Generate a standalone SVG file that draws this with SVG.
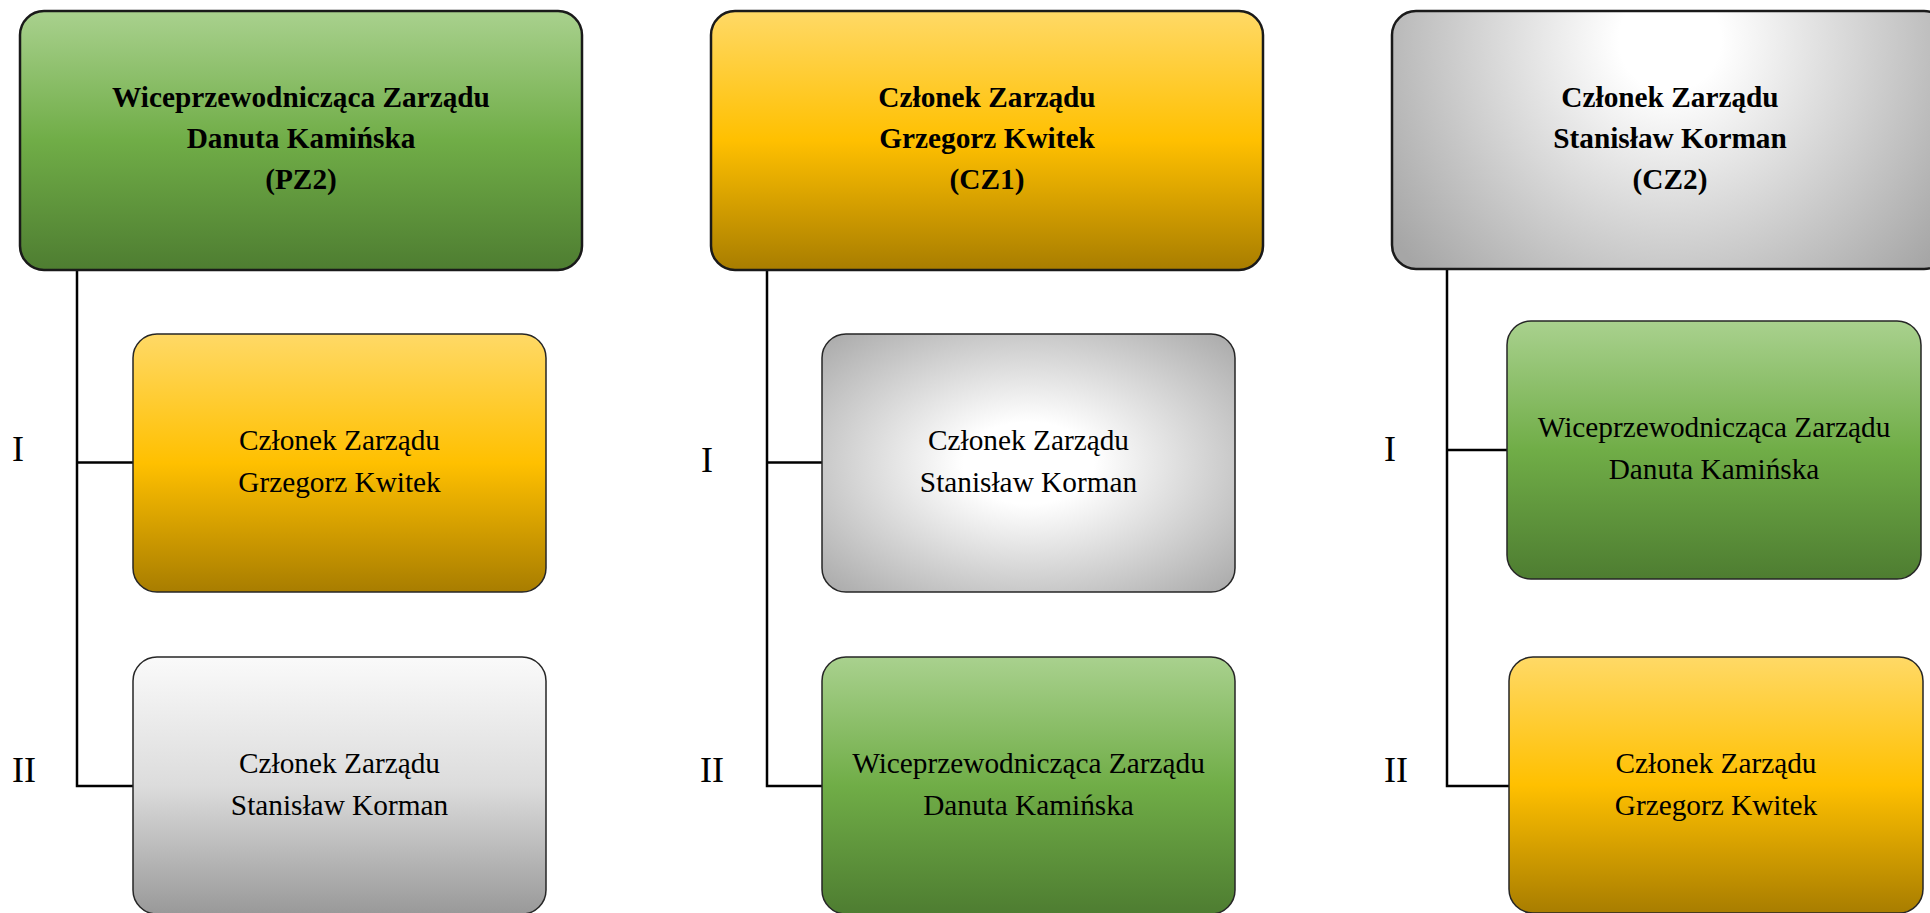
<svg xmlns="http://www.w3.org/2000/svg" width="1930" height="913" viewBox="0 0 1930 913">
<defs>
<linearGradient id="gGreen" x1="0" y1="0" x2="0" y2="1">
<stop offset="0" stop-color="#A9D18E"/><stop offset="0.5" stop-color="#70AD47"/><stop offset="1" stop-color="#4E7D31"/>
</linearGradient>
<linearGradient id="gGold" x1="0" y1="0" x2="0" y2="1">
<stop offset="0" stop-color="#FFD966"/><stop offset="0.5" stop-color="#FFC000"/><stop offset="1" stop-color="#A87D00"/>
</linearGradient>
<linearGradient id="gGrayLin" x1="0" y1="0" x2="0" y2="1">
<stop offset="0" stop-color="#FAFAFA"/><stop offset="0.5" stop-color="#DCDCDC"/><stop offset="1" stop-color="#999999"/>
</linearGradient>
<radialGradient id="gGrayRad" cx="0.5" cy="0.5" r="0.72">
<stop offset="0.22" stop-color="#FFFFFF"/><stop offset="1" stop-color="#A6A6A6"/>
</radialGradient>
<radialGradient id="gGrayTop" gradientUnits="userSpaceOnUse" cx="1670" cy="40" r="340">
<stop offset="0.15" stop-color="#FFFFFF"/><stop offset="1" stop-color="#A6A6A6"/>
</radialGradient>
</defs>
<style>
.top{stroke:#1a1a1a;stroke-width:2.5}
.child{stroke:#262626;stroke-width:1.5}
.tb{font-family:"Liberation Serif","Times New Roman",serif;font-size:29.3px;font-weight:bold;fill:#000;text-anchor:middle}
.tc{font-family:"Liberation Serif","Times New Roman",serif;font-size:29.3px;fill:#000;text-anchor:middle}
.lab{font-family:"Liberation Serif","Times New Roman",serif;font-size:36px;fill:#000}
.con{stroke:#000;stroke-width:2.5;fill:none}
</style>
<rect width="1930" height="913" fill="#fff"/>
<g id="connectors">
<path class="con" d="M77 270V786H133M77 462.5H133"/>
<path class="con" d="M767 270V786H822M767 462.5H822"/>
<path class="con" d="M1447 269V786H1509M1447 450H1507"/>
</g>
<g id="labels">
<text class="lab" x="12" y="461">I</text>
<text class="lab" x="12" y="782">II</text>
<text class="lab" x="701" y="472">I</text>
<text class="lab" x="700" y="782">II</text>
<text class="lab" x="1384" y="461">I</text>
<text class="lab" x="1384" y="782">II</text>
</g>
<g id="pz2">
<rect class="top" x="20" y="11" width="562" height="259" rx="24" fill="url(#gGreen)"/>
<text class="tb" x="301" y="107">Wiceprzewodnicząca Zarządu</text>
<text class="tb" x="301" y="148">Danuta Kamińska</text>
<text class="tb" x="301" y="189">(PZ2)</text>
</g>
<g id="cz1">
<rect class="top" x="711" y="11" width="552" height="259" rx="24" fill="url(#gGold)"/>
<text class="tb" x="987" y="107">Członek Zarządu</text>
<text class="tb" x="987" y="148">Grzegorz Kwitek</text>
<text class="tb" x="987" y="189">(CZ1)</text>
</g>
<g id="cz2">
<rect class="top" x="1392" y="11" width="556" height="258" rx="24" fill="url(#gGrayTop)"/>
<text class="tb" x="1670" y="107">Członek Zarządu</text>
<text class="tb" x="1670" y="148">Stanisław Korman</text>
<text class="tb" x="1670" y="189">(CZ2)</text>
</g>
<g id="pz2-1">
<rect class="child" x="133" y="334" width="413" height="258" rx="24" fill="url(#gGold)"/>
<text class="tc" x="339.5" y="450">Członek Zarządu</text>
<text class="tc" x="339.5" y="492">Grzegorz Kwitek</text>
</g>
<g id="pz2-2">
<rect class="child" x="133" y="657" width="413" height="257" rx="24" fill="url(#gGrayLin)"/>
<text class="tc" x="339.5" y="773">Członek Zarządu</text>
<text class="tc" x="339.5" y="815">Stanisław Korman</text>
</g>
<g id="cz1-1">
<rect class="child" x="822" y="334" width="413" height="258" rx="24" fill="url(#gGrayRad)"/>
<text class="tc" x="1028.5" y="450">Członek Zarządu</text>
<text class="tc" x="1028.5" y="492">Stanisław Korman</text>
</g>
<g id="cz1-2">
<rect class="child" x="822" y="657" width="413" height="257" rx="24" fill="url(#gGreen)"/>
<text class="tc" x="1028.5" y="773">Wiceprzewodnicząca Zarządu</text>
<text class="tc" x="1028.5" y="815">Danuta Kamińska</text>
</g>
<g id="cz2-1">
<rect class="child" x="1507" y="321" width="414" height="258" rx="24" fill="url(#gGreen)"/>
<text class="tc" x="1714" y="437">Wiceprzewodnicząca Zarządu</text>
<text class="tc" x="1714" y="479">Danuta Kamińska</text>
</g>
<g id="cz2-2">
<rect class="child" x="1509" y="657" width="414" height="256" rx="24" fill="url(#gGold)"/>
<text class="tc" x="1716" y="773">Członek Zarządu</text>
<text class="tc" x="1716" y="815">Grzegorz Kwitek</text>
</g>
</svg>
